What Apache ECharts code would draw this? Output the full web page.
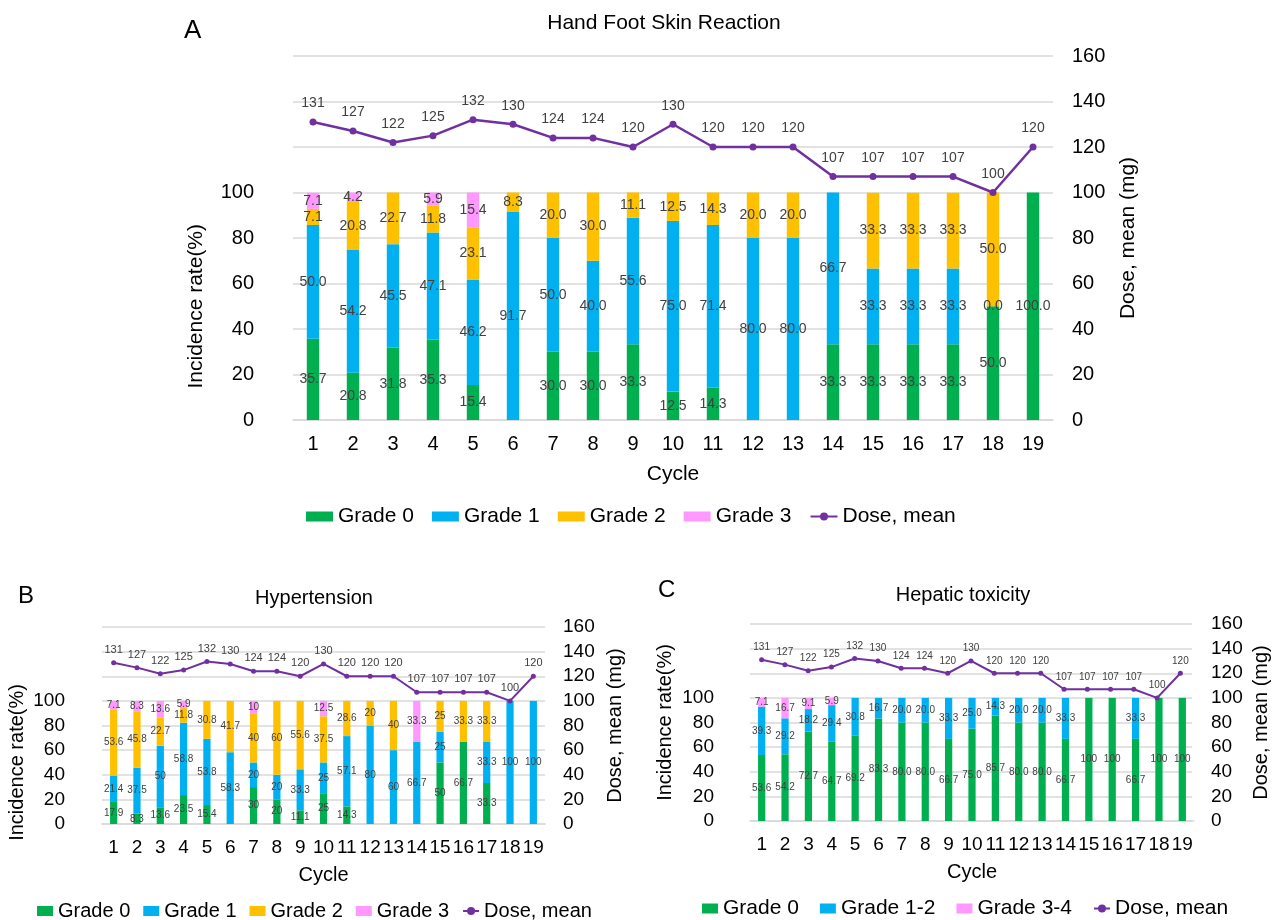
<!DOCTYPE html>
<html>
<head>
<meta charset="utf-8">
<title>Toxicity grade and mean dose by cycle</title>
<script src="https://cdn.jsdelivr.net/npm/echarts@6/dist/echarts.min.js"></script>
<style>
  html, body { margin: 0; padding: 0; background: #fff; }
  #main { width: 1272px; height: 920px; }
</style>
</head>
<body>
<div id="main"></div>
<script type="text/javascript">
// cycles and mean dose (mg), shared by the three panels
var cycles = ['1','2','3','4','5','6','7','8','9','10','11','12','13','14','15','16','17','18','19'];
var doseMean = [131,127,122,125,132,130,124,124,120,130,120,120,120,107,107,107,107,100,120];

// A - hand foot skin reaction, incidence (%)
var hfsrGrade0 = [35.7,20.8,31.8,35.3,15.4,null,30.0,30.0,33.3,12.5,14.3,null,null,33.3,33.3,33.3,33.3,50.0,100.0];
var hfsrGrade1 = [50.0,54.2,45.5,47.1,46.2,91.7,50.0,40.0,55.6,75.0,71.4,80.0,80.0,66.7,33.3,33.3,33.3,0,null];
var hfsrGrade2 = [7.1,20.8,22.7,11.8,23.1,8.3,20.0,30.0,11.1,12.5,14.3,20.0,20.0,null,33.3,33.3,33.3,50.0,null];
var hfsrGrade3 = [7.1,4.2,null,5.9,15.4,null,null,null,null,null,null,null,null,null,null,null,null,null,null];

// B - hypertension, incidence (%)
var htnGrade0 = [17.9,8.3,13.6,23.5,15.4,null,30,20,11.1,25,14.3,null,null,null,50,66.7,33.3,null,null];
var htnGrade1 = [21.4,37.5,50,58.8,53.8,58.3,20,20,33.3,25,57.1,80,60,66.7,25,null,33.3,100,100];
var htnGrade2 = [53.6,45.8,22.7,11.8,30.8,41.7,40,60,55.6,37.5,28.6,20,40,null,25,33.3,33.3,null,null];
var htnGrade3 = [7.1,8.3,13.6,5.9,null,null,10,null,null,12.5,null,null,null,33.3,null,null,null,null,null];

// C - hepatic toxicity, incidence (%)
var hepGrade0 = [53.6,54.2,72.7,64.7,69.2,83.3,80.0,80.0,66.7,75.0,85.7,80.0,80.0,66.7,100,100,66.7,100,100];
var hepGrade12 = [39.3,29.2,18.2,29.4,30.8,16.7,20.0,20.0,33.3,25.0,14.3,20.0,20.0,33.3,null,null,33.3,null,null];
var hepGrade34 = [7.1,16.7,9.1,5.9,null,null,null,null,null,null,null,null,null,null,null,null,null,null,null];

var SANS = "'Liberation Sans', Arial, sans-serif";
var GRID_COLOR = '#D9D9D9';
var LABEL_COLOR = '#404040';
var GREEN = '#00B050', BLUE = '#00B0F0', ORANGE = '#FFC000', PINK = '#FF99FF', PURPLE = '#7030A0';

var fmtOne = function (p) { return p.value.toFixed(1); };
var fmtRaw = function (p) { return String(p.value); };
var fmtHep = function (p) { return p.value === 100 ? '100' : p.value.toFixed(1); };

var option = {
    animation: false,
    backgroundColor: '#fff',
    textStyle: { fontFamily: SANS },
    title: [], legend: [], grid: [], xAxis: [], yAxis: [], series: []
};

function addPanel(p) {
    var gLine = option.grid.length, gBar = gLine + 1;
    var barH = p.height * 100 / 160;
    option.grid.push({ left: p.left, top: p.top, width: p.width, height: p.height });
    option.grid.push({ left: p.left, top: p.top + p.height - barH, width: p.width, height: barH });

    var xLine = option.xAxis.length, xBar = xLine + 1;
    option.xAxis.push({ type: 'category', gridIndex: gLine, data: cycles, show: false });
    option.xAxis.push({
        type: 'category', gridIndex: gBar, data: cycles,
        axisLine: { lineStyle: { color: GRID_COLOR, width: 1.5 } },
        axisTick: { show: false },
        axisLabel: { interval: 0, fontSize: p.tick, color: '#000', margin: p.xLabelMargin },
        name: 'Cycle', nameLocation: 'middle', nameGap: p.cycleGap,
        nameTextStyle: { fontSize: p.nameSize, color: '#000' }
    });

    var yDose = option.yAxis.length, yBar = yDose + 1;
    option.yAxis.push({
        type: 'value', gridIndex: gLine, position: 'right', min: 0, max: 160, interval: 20,
        axisLine: { show: false }, axisTick: { show: false },
        splitLine: { lineStyle: { color: GRID_COLOR, width: 1.5 } },
        axisLabel: { fontSize: p.tick, color: '#000', margin: p.rightLabelMargin },
        name: 'Dose, mean (mg)', nameLocation: 'middle', nameGap: p.rightNameGap,
        nameTextStyle: { fontSize: p.nameSize, color: '#000' }
    });
    var leftAxis = {
        type: 'value', gridIndex: gBar, position: 'left', min: 0, max: 100, interval: 20,
        axisLine: { show: false }, axisTick: { show: false }, splitLine: { show: false },
        axisLabel: { fontSize: p.tick, color: '#000', margin: p.leftLabelMargin }
    };
    var leftName = {
        name: 'Incidence rate(%)', nameLocation: 'middle', nameGap: p.leftNameGap,
        nameTextStyle: { fontSize: p.nameSize, color: '#000' }
    };
    if (p.nameOverFull) {
        // panel C: axis title centred on the whole plot height
        option.yAxis.push(leftAxis);
        option.yAxis.push(Object.assign({
            type: 'value', gridIndex: gLine, position: 'left', min: 0, max: 160,
            axisLine: { show: false }, axisTick: { show: false }, splitLine: { show: false },
            axisLabel: { show: false }
        }, leftName));
    } else {
        option.yAxis.push(Object.assign(leftAxis, leftName));
    }

    var legendData = [];
    p.bars.forEach(function (b) {
        option.series.push({
            name: b.name, type: 'bar', stack: 'stack' + gLine,
            xAxisIndex: xBar, yAxisIndex: yBar,
            barWidth: '31%', data: b.data,
            itemStyle: { color: b.color },
            label: {
                show: true, position: 'inside', formatter: p.fmt,
                fontSize: p.barLabel, color: LABEL_COLOR, textBorderWidth: 0
            }
        });
        legendData.push({ name: b.name, icon: 'rect' });
    });
    option.series.push({
        name: 'Dose, mean', type: 'line', xAxisIndex: xLine, yAxisIndex: yDose,
        data: doseMean, symbol: 'circle', symbolSize: p.symbolSize,
        lineStyle: { color: PURPLE, width: p.lineWidth },
        itemStyle: { color: PURPLE },
        label: {
            show: true, position: 'top', distance: p.doseDist,
            fontSize: p.doseLabel, color: LABEL_COLOR
        }
    });
    legendData.push({ name: 'Dose, mean' });

    option.legend.push({
        left: p.legend.left, top: p.legend.top, itemWidth: p.legend.w, itemHeight: 10,
        itemGap: p.legend.gap, padding: 0, data: legendData,
        textStyle: { fontSize: p.legend.font, color: '#000' }
    });
    option.title.push({
        text: p.title, left: p.titleX, top: p.titleTop, textAlign: 'center', padding: 0,
        textStyle: { fontSize: p.titleSize, fontWeight: 'normal', color: '#000' }
    });
    option.title.push({
        text: p.letter, left: p.letterX, top: p.letterTop, padding: 0,
        textStyle: { fontSize: p.letterSize, fontWeight: 'normal', color: '#000' }
    });
}

addPanel({
    title: 'Hand Foot Skin Reaction', letter: 'A',
    left: 293, top: 56, width: 760, height: 364,
    tick: 20, nameSize: 21, titleSize: 21, letterSize: 26,
    barLabel: 14, doseLabel: 14, doseDist: 8, symbolSize: 7, lineWidth: 2.5,
    leftLabelMargin: 39, rightLabelMargin: 19, leftNameGap: 86, rightNameGap: 65,
    xLabelMargin: 14, cycleGap: 44,
    titleX: 664, titleTop: 13, letterX: 184, letterTop: 18,
    legend: { left: 306, top: 506, w: 27, gap: 18, font: 21 },
    fmt: fmtOne,
    bars: [
        { name: 'Grade 0', data: hfsrGrade0, color: GREEN },
        { name: 'Grade 1', data: hfsrGrade1, color: BLUE },
        { name: 'Grade 2', data: hfsrGrade2, color: ORANGE },
        { name: 'Grade 3', data: hfsrGrade3, color: PINK }
    ]
});

addPanel({
    title: 'Hypertension', letter: 'B',
    left: 102, top: 627, width: 443, height: 197,
    tick: 19, nameSize: 20, titleSize: 20, letterSize: 24,
    barLabel: 10, doseLabel: 11, doseDist: 5, symbolSize: 5, lineWidth: 2,
    leftLabelMargin: 37, rightLabelMargin: 18, leftNameGap: 75, rightNameGap: 60,
    xLabelMargin: 14, cycleGap: 41,
    titleX: 314, titleTop: 588, letterX: 18, letterTop: 584,
    legend: { left: 37, top: 901, w: 16, gap: 13, font: 20 },
    fmt: fmtRaw,
    bars: [
        { name: 'Grade 0', data: htnGrade0, color: GREEN },
        { name: 'Grade 1', data: htnGrade1, color: BLUE },
        { name: 'Grade 2', data: htnGrade2, color: ORANGE },
        { name: 'Grade 3', data: htnGrade3, color: PINK }
    ]
});

addPanel({
    title: 'Hepatic toxicity', letter: 'C', nameOverFull: true,
    left: 750, top: 624, width: 444, height: 197,
    tick: 19, nameSize: 20, titleSize: 20, letterSize: 24,
    barLabel: 10, doseLabel: 10, doseDist: 5, symbolSize: 5, lineWidth: 2,
    leftLabelMargin: 36, rightLabelMargin: 19, leftNameGap: 75, rightNameGap: 59,
    xLabelMargin: 14, cycleGap: 41,
    titleX: 963, titleTop: 585, letterX: 658, letterTop: 578,
    legend: { left: 702, top: 898, w: 16, gap: 21, font: 21 },
    fmt: fmtHep,
    bars: [
        { name: 'Grade 0', data: hepGrade0, color: GREEN },
        { name: 'Grade 1-2', data: hepGrade12, color: BLUE },
        { name: 'Grade 3-4', data: hepGrade34, color: PINK }
    ]
});

var chart = echarts.init(document.getElementById('main'));
chart.setOption(option);
</script>
</body>
</html>
